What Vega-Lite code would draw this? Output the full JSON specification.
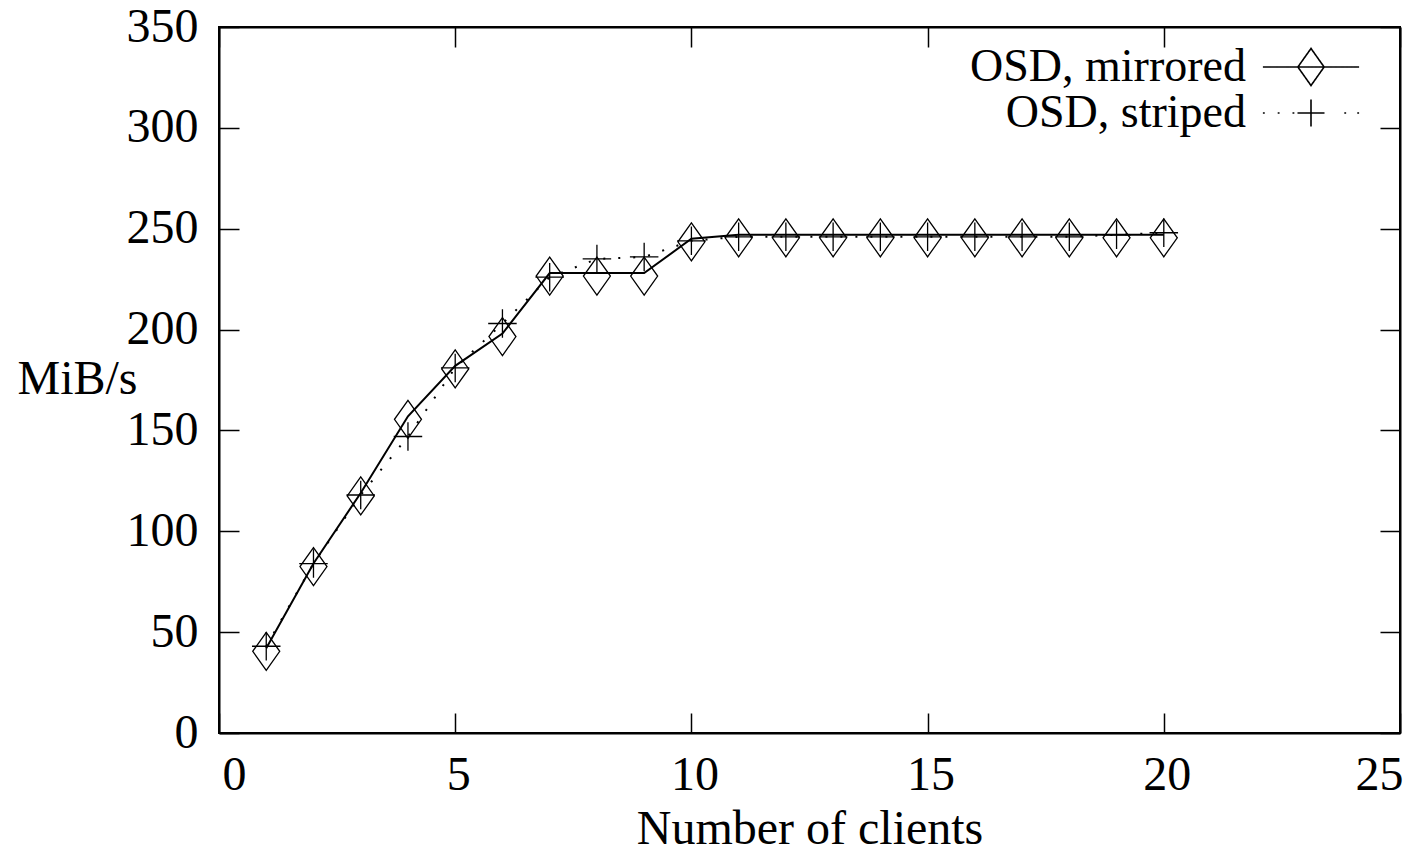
{
  "$schema": "https://vega.github.io/schema/vega-lite/v6.json",
  "width": 1181,
  "height": 706,
  "autosize": {"type": "none"},
  "padding": {"left": 219, "top": 27, "right": 28, "bottom": 122},
  "background": "white",
  "data": {
    "values": [
      {"clients": 1, "mibs": 42, "series": "OSD, mirrored"},
      {"clients": 2, "mibs": 84, "series": "OSD, mirrored"},
      {"clients": 3, "mibs": 119, "series": "OSD, mirrored"},
      {"clients": 4, "mibs": 157, "series": "OSD, mirrored"},
      {"clients": 5, "mibs": 182, "series": "OSD, mirrored"},
      {"clients": 6, "mibs": 198, "series": "OSD, mirrored"},
      {"clients": 7, "mibs": 228, "series": "OSD, mirrored"},
      {"clients": 8, "mibs": 228, "series": "OSD, mirrored"},
      {"clients": 9, "mibs": 228, "series": "OSD, mirrored"},
      {"clients": 10, "mibs": 245, "series": "OSD, mirrored"},
      {"clients": 11, "mibs": 247, "series": "OSD, mirrored"},
      {"clients": 12, "mibs": 247, "series": "OSD, mirrored"},
      {"clients": 13, "mibs": 247, "series": "OSD, mirrored"},
      {"clients": 14, "mibs": 247, "series": "OSD, mirrored"},
      {"clients": 15, "mibs": 247, "series": "OSD, mirrored"},
      {"clients": 16, "mibs": 247, "series": "OSD, mirrored"},
      {"clients": 17, "mibs": 247, "series": "OSD, mirrored"},
      {"clients": 18, "mibs": 247, "series": "OSD, mirrored"},
      {"clients": 19, "mibs": 247, "series": "OSD, mirrored"},
      {"clients": 20, "mibs": 247, "series": "OSD, mirrored"},
      {"clients": 1, "mibs": 43, "series": "OSD, striped"},
      {"clients": 2, "mibs": 84, "series": "OSD, striped"},
      {"clients": 3, "mibs": 118, "series": "OSD, striped"},
      {"clients": 4, "mibs": 147, "series": "OSD, striped"},
      {"clients": 5, "mibs": 181, "series": "OSD, striped"},
      {"clients": 6, "mibs": 203, "series": "OSD, striped"},
      {"clients": 7, "mibs": 226, "series": "OSD, striped"},
      {"clients": 8, "mibs": 235, "series": "OSD, striped"},
      {"clients": 9, "mibs": 236, "series": "OSD, striped"},
      {"clients": 10, "mibs": 244, "series": "OSD, striped"},
      {"clients": 11, "mibs": 246, "series": "OSD, striped"},
      {"clients": 12, "mibs": 246, "series": "OSD, striped"},
      {"clients": 13, "mibs": 246, "series": "OSD, striped"},
      {"clients": 14, "mibs": 246, "series": "OSD, striped"},
      {"clients": 15, "mibs": 246, "series": "OSD, striped"},
      {"clients": 16, "mibs": 246, "series": "OSD, striped"},
      {"clients": 17, "mibs": 246, "series": "OSD, striped"},
      {"clients": 18, "mibs": 246, "series": "OSD, striped"},
      {"clients": 19, "mibs": 247, "series": "OSD, striped"},
      {"clients": 20, "mibs": 248, "series": "OSD, striped"}
    ]
  },
  "layer": [
    {
      "transform": [{"filter": "datum.series === 'OSD, mirrored'"}],
      "mark": {"type": "line", "color": "black", "strokeWidth": 2},
      "encoding": {
        "x": {
          "field": "clients", "type": "quantitative",
          "scale": {"domain": [0, 25], "nice": false, "zero": false},
          "axis": {
            "orient": "bottom", "values": [0, 5, 10, 15, 20, 25],
            "title": "Number of clients", "titleY": 110, "titleBaseline": "alphabetic",
            "tickSize": -20, "labelPadding": 38, "labelOffset": 3
          }
        },
        "y": {
          "field": "mibs", "type": "quantitative",
          "scale": {"domain": [0, 350], "nice": false},
          "axis": {
            "orient": "left", "values": [0, 50, 100, 150, 200, 250, 300, 350],
            "title": "MiB/s", "titleAngle": 0, "titleAlign": "left", "titleBaseline": "alphabetic",
            "titleX": -202, "titleY": 366,
            "tickSize": -20, "labelPadding": 41
          }
        }
      }
    },
    {
      "transform": [{"filter": "datum.series === 'OSD, striped'"}],
      "mark": {"type": "line", "color": "black", "strokeWidth": 2, "strokeDash": [2, 13]},
      "encoding": {
        "x": {"field": "clients", "type": "quantitative", "axis": null},
        "y": {"field": "mibs", "type": "quantitative", "axis": null}
      }
    },
    {
      "transform": [{"filter": "datum.series === 'OSD, mirrored'"}],
      "mark": {"type": "point", "filled": false, "color": "black", "strokeWidth": 1.3, "size": 1444, "opacity": 1, "yOffset": 3, "shape": "M0,-1L0.71,0L0,1L-0.71,0Z"},
      "encoding": {
        "x": {
          "field": "clients", "type": "quantitative",
          "axis": {"orient": "top", "values": [0, 5, 10, 15, 20, 25], "labels": false, "title": null, "tickSize": -20}
        },
        "y": {
          "field": "mibs", "type": "quantitative",
          "axis": {"orient": "right", "values": [0, 50, 100, 150, 200, 250, 300, 350], "labels": false, "title": null, "tickSize": -20}
        }
      }
    },
    {
      "transform": [{"filter": "datum.series === 'OSD, striped'"}],
      "mark": {"type": "point", "filled": false, "color": "black", "strokeWidth": 1.3, "size": 1444, "opacity": 1, "shape": "M-0.75,0L0.75,0M0,-0.75L0,0.75"},
      "encoding": {
        "x": {"field": "clients", "type": "quantitative", "axis": null},
        "y": {"field": "mibs", "type": "quantitative", "axis": null}
      }
    },
    {
      "mark": {"type": "point", "filled": false, "color": "black", "opacity": 0},
      "encoding": {
        "x": {"field": "clients", "type": "quantitative", "axis": null},
        "y": {"field": "mibs", "type": "quantitative", "axis": null},
        "strokeDash": {
          "field": "series", "type": "nominal",
          "scale": {"domain": ["OSD, mirrored", "OSD, striped"], "range": [[1, 0], [1, 0]]},
          "legend": {
            "title": null, "orient": "none", "legendX": 1069, "legendY": 17,
            "padding": 0, "rowPadding": 0, "symbolSize": 1369, "symbolStrokeWidth": 1.6,
            "symbolStrokeColor": "black", "symbolFillColor": "transparent", "symbolOpacity": 1,
            "symbolType": {"expr": "datum.value === 'OSD, mirrored' ? 'M-2.6,0L2.6,0M0,-1L0.71,0L0,1L-0.71,0Z' : 'M-2.6,0L-2.5,0M-1.8,0L-1.7,0M-1.0,0L-0.9,0M-0.73,0L0.73,0M0,-0.73L0,0.73M1.8,0L1.9,0M2.5,0L2.6,0'"},
            "labelFontSize": 46, "labelLimit": 1000, "labelAlign": "right", "labelOffset": -88
          }
        }
      }
    }
  ],
  "resolve": {"axis": {"x": "independent", "y": "independent"}},
  "config": {
    "view": {"stroke": "black", "strokeWidth": 2},
    "font": "Liberation Serif",
    "axis": {
      "grid": false,
      "domainColor": "black", "domainWidth": 2,
      "tickColor": "black", "tickWidth": 1.5,
      "labelFont": "Liberation Serif", "labelFontSize": 48, "labelColor": "black",
      "titleFont": "Liberation Serif", "titleFontSize": 48, "titleFontWeight": "normal", "titleColor": "black"
    },
    "legend": {
      "labelFont": "Liberation Serif", "labelColor": "black"
    }
  }
}
